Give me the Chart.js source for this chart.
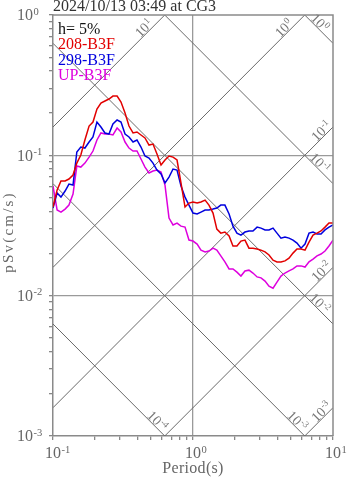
<!DOCTYPE html>
<html>
<head>
<meta charset="utf-8">
<title>pSv spectrum</title>
<style>
  html, body { margin: 0; padding: 0; background: #fff; }
  #wrap { width: 347px; height: 478px; }
</style>
<script src="https://cdn.jsdelivr.net/npm/chart.js@4/dist/chart.umd.min.js"></script>
</head>
<body>
<div id="wrap"><canvas id="chart" width="347" height="478"></canvas></div>
<script>
// Natural periods (s)
const periods = [
  0.1, 0.107, 0.114, 0.122, 0.13, 0.139, 0.148, 0.158, 0.169, 0.181,
  0.193, 0.206, 0.22, 0.235, 0.251, 0.268, 0.287, 0.306, 0.327, 0.349,
  0.373, 0.398, 0.425, 0.454, 0.485, 0.518, 0.553, 0.591, 0.631, 0.674,
  0.72, 0.769, 0.821, 0.877, 0.936, 1.0, 1.07, 1.14, 1.22, 1.3,
  1.39, 1.48, 1.58, 1.69, 1.81, 1.93, 2.06, 2.2, 2.35, 2.51,
  2.68, 2.87, 3.06, 3.27, 3.49, 3.73, 3.98, 4.25, 4.54, 4.85,
  5.18, 5.53, 5.91, 6.31, 6.74, 7.2, 7.69, 8.21, 8.77, 9.36, 10.0
];

// Pseudo velocity response, h = 5% (cm/s)
const sv208 = [
  0.0428, 0.0566, 0.0656, 0.0656, 0.0678, 0.0724, 0.0881, 0.1005, 0.1286, 0.1617,
  0.1727, 0.2138, 0.2359, 0.2438, 0.2519, 0.2646, 0.2646, 0.2398, 0.2003, 0.1617,
  0.1443, 0.1466, 0.1396, 0.1329, 0.1184, 0.1204, 0.1022, 0.0853, 0.0926, 0.0989,
  0.0972, 0.0926, 0.0635, 0.0428, 0.0457, 0.0465, 0.0457, 0.0465, 0.0480, 0.0442,
  0.0388, 0.0298, 0.0279, 0.0284, 0.0266, 0.0226, 0.0226, 0.0245, 0.0249, 0.0218,
  0.0218, 0.0215, 0.0211, 0.0205, 0.0195, 0.0179, 0.0174, 0.0174, 0.0177, 0.0185,
  0.0201, 0.0215, 0.0215, 0.0211, 0.0241, 0.0270, 0.0279, 0.0289, 0.0308, 0.0329, 0.0329
];
const sv298 = [
  0.0421, 0.0539, 0.0504, 0.0557, 0.0624, 0.0614, 0.1056, 0.1146, 0.1127, 0.1244,
  0.1351, 0.1727, 0.1591, 0.1443, 0.1419, 0.1671, 0.1785, 0.1727, 0.1419, 0.1351,
  0.1244, 0.1286, 0.1146, 0.0989, 0.0957, 0.0881, 0.0786, 0.0736, 0.0635, 0.0700,
  0.0799, 0.0786, 0.0604, 0.0504, 0.0442, 0.0388, 0.0382, 0.0394, 0.0408, 0.0408,
  0.0414, 0.0421, 0.0442, 0.0442, 0.0382, 0.0313, 0.0279, 0.0270, 0.0284, 0.0289,
  0.0289, 0.0308, 0.0303, 0.0294, 0.0294, 0.0303, 0.0279, 0.0257, 0.0262, 0.0257,
  0.0249, 0.0237, 0.0218, 0.0233, 0.0279, 0.0284, 0.0275, 0.0275, 0.0294, 0.0308, 0.0319
];
const svUP = [
  0.0604, 0.0408, 0.0394, 0.0414, 0.0442, 0.0530, 0.0839, 0.0825, 0.0881, 0.0972,
  0.1073, 0.1286, 0.1443, 0.1419, 0.1419, 0.1396, 0.1566, 0.1466, 0.1244, 0.1127,
  0.1073, 0.1073, 0.0941, 0.0825, 0.0748, 0.0773, 0.0786, 0.0760, 0.0614, 0.0357,
  0.0319, 0.0329, 0.0313, 0.0308, 0.0249, 0.0245, 0.0233, 0.0211, 0.0205, 0.0208,
  0.0218, 0.0211, 0.0192, 0.0174, 0.0155, 0.0155, 0.0147, 0.0138, 0.0150, 0.0152,
  0.0145, 0.0136, 0.0134, 0.0127, 0.0117, 0.0113, 0.0125, 0.0138, 0.0145, 0.0150,
  0.0155, 0.0163, 0.0163, 0.0160, 0.0174, 0.0182, 0.0192, 0.0198, 0.0208, 0.0226, 0.0249
];

const seriesNames = ['208-B3F', '298-B3F', 'UP-B3F'];
const seriesColors = ['rgb(226,0,0)', 'rgb(0,0,222)', 'rgb(222,0,222)'];
const dampingText = 'h= 5%';
const titleText = '2024/10/13 03:49 at CG3';
const xTitle = 'Period(s)';
const yTitle = 'pSv(cm/s)';

// Axis ranges and decade labels (powers of ten)
const periodRange = [0.1, 10];
const svRange = [0.001, 1];
const xTickExps = [-1, 0, 1];
const yTickExps = [0, -1, -2, -3];

// Tripartite guide lines: displacement (cm) and acceleration (cm/s^2), as powers of ten
const dispExps = [-4, -3, -2, -1, 0];
const accExps = [-3, -2, -1, 0, 1];

const FONT = '"Liberation Serif", "Times New Roman", serif';
const TWO_PI = 2 * Math.PI;

const guideLines = [
  ...dispExps.map(e => ({ kind: 'disp', exp: e,
    pts: periodRange.map(T => ({ x: T, y: TWO_PI * Math.pow(10, e) / T })) })),
  ...accExps.map(e => ({ kind: 'acc', exp: e,
    pts: periodRange.map(T => ({ x: T, y: Math.pow(10, e) * T / TWO_PI })) }))
];

const seriesValues = [sv208, sv298, svUP];
const datasets = [
  ...seriesValues.map((vals, i) => ({
    label: seriesNames[i],
    data: periods.map((T, j) => ({ x: T, y: vals[j] })),
    borderColor: seriesColors[i],
    borderWidth: 1.5,
    pointRadius: 0,
    tension: 0,
    fill: false,
    clip: 0,
    order: 0
  })),
  ...guideLines.map(g => ({
    label: '',
    data: g.pts,
    borderColor: '#6a6a6a',
    borderWidth: 1,
    pointRadius: 0,
    fill: false,
    clip: 0,
    order: 1
  }))
];

function decadeTicks(lo, hi) {
  const ticks = [];
  for (let e = lo; e < hi; e++) {
    for (let m = 1; m <= 9; m++) ticks.push({ value: m * Math.pow(10, e), major: m === 1 });
  }
  ticks.push({ value: Math.pow(10, hi), major: true });
  return ticks;
}

function isDecade(v) {
  const l = Math.log10(v);
  return Math.abs(l - Math.round(l)) < 1e-9;
}

function gridColorFor(range) {
  return c => {
    const v = c.tick && c.tick.value;
    if (!v) return 'transparent';
    if (Math.abs(v - range[0]) / range[0] < 1e-9 || Math.abs(v - range[1]) / range[1] < 1e-9) return 'transparent';
    return isDecade(v) ? '#9a9a9a' : 'transparent';
  };
}

// "10" with a raised exponent
function drawPower(ctx, exp, x, y, size, align) {
  const base = '10';
  const sup = String(exp);
  const supSize = size * 0.66;
  ctx.font = size + 'px ' + FONT;
  const wb = ctx.measureText(base).width;
  ctx.font = supSize + 'px ' + FONT;
  const ws = ctx.measureText(sup).width;
  let x0 = x;
  if (align === 'base') x0 = x - wb / 2;
  else if (align === 'center') x0 = x - (wb + ws + 0.5) / 2;
  ctx.textAlign = 'left';
  ctx.textBaseline = 'alphabetic';
  ctx.font = size + 'px ' + FONT;
  ctx.fillText(base, x0, y);
  ctx.font = supSize + 'px ' + FONT;
  ctx.fillText(sup, x0 + wb + 0.5, y - size * 0.36);
}

const decor = {
  id: 'decor',
  afterDraw(chart) {
    const { ctx, chartArea: a, scales: { x, y } } = chart;
    ctx.save();

    // frame: top and right edges
    ctx.strokeStyle = '#8a8a8a';
    ctx.lineWidth = 1.5;
    ctx.beginPath();
    ctx.moveTo(a.left, a.top);
    ctx.lineTo(a.right, a.top);
    ctx.lineTo(a.right, a.bottom);
    ctx.stroke();

    // decade labels
    ctx.fillStyle = '#666';
    yTickExps.forEach(e => drawPower(ctx, e, a.left - 36, y.getPixelForValue(Math.pow(10, e)) + 5.3, 16, 'left'));
    xTickExps.forEach(e => drawPower(ctx, e, x.getPixelForValue(Math.pow(10, e)), a.bottom + 22.3, 16, 'base'));

    // axis titles
    ctx.font = '16px ' + FONT;
    ctx.textAlign = 'center';
    ctx.textBaseline = 'alphabetic';
    ctx.letterSpacing = '0.3px';
    ctx.fillText(xTitle, (a.left + a.right) / 2, a.bottom + 36.5);
    ctx.save();
    ctx.font = '15px ' + FONT;
    ctx.letterSpacing = '2.2px';
    ctx.translate(13, 232);
    ctx.rotate(-Math.PI / 2);
    ctx.fillText(yTitle, 0, 0);
    ctx.restore();
    ctx.letterSpacing = '0px';

    // chart title
    ctx.fillStyle = '#333';
    ctx.font = '16px ' + FONT;
    ctx.textAlign = 'left';
    ctx.fillText(titleText, a.left, 11);

    // legend block
    ctx.fillStyle = '#111';
    ctx.fillText(dampingText, a.left + 5, a.top + 18.5);
    seriesNames.forEach((n, i) => {
      ctx.fillStyle = seriesColors[i];
      ctx.fillText(n, a.left + 5, a.top + 34 + i * 15.5);
    });

    // guide line labels, placed where each line leaves the plot
    ctx.fillStyle = '#777';
    const r2 = Math.SQRT1_2;
    guideLines.forEach(g => {
      const val = Math.pow(10, g.exp);
      let ex, ey, back, dx, dy, px, py, rot;
      if (g.kind === 'acc') {
        const svRight = val * periodRange[1] / TWO_PI;
        if (svRight <= svRange[1]) {
          ex = a.right; ey = y.getPixelForValue(svRight); back = 11;
        } else {
          ex = x.getPixelForValue(TWO_PI * svRange[1] / val); ey = a.top; back = 24;
        }
        dx = -r2; dy = r2; px = -r2; py = -r2; rot = -Math.PI / 4;
      } else {
        const svRight = TWO_PI * val / periodRange[1];
        if (svRight >= svRange[0]) {
          ex = a.right; ey = y.getPixelForValue(svRight); back = 24;
        } else {
          ex = x.getPixelForValue(TWO_PI * val / svRange[0]); ey = a.bottom; back = 16;
        }
        dx = -r2; dy = -r2; px = r2; py = -r2; rot = Math.PI / 4;
      }
      const cx = ex + dx * back + px * 5.5;
      const cy = ey + dy * back + py * 5.5;
      ctx.save();
      ctx.translate(cx, cy);
      ctx.rotate(rot);
      drawPower(ctx, g.exp, 0, 4.6, 14, 'center');
      ctx.restore();
    });

    ctx.restore();
  }
};

new Chart(document.getElementById('chart').getContext('2d'), {
  type: 'line',
  data: { datasets },
  options: {
    responsive: false,
    animation: false,
    devicePixelRatio: 1,
    events: [],
    layout: { padding: { left: 0, right: 14, top: 15, bottom: 0 } },
    plugins: {
      legend: { display: false },
      tooltip: { enabled: false },
      title: { display: false }
    },
    scales: {
      x: {
        type: 'logarithmic',
        min: periodRange[0],
        max: periodRange[1],
        afterBuildTicks: s => { s.ticks = decadeTicks(-1, 1); },
        afterFit: s => { s.height = 42; },
        ticks: { display: false },
        grid: { color: gridColorFor(periodRange), lineWidth: 1.3, tickColor: '#888', tickLength: 4 },
        border: { color: '#8a8a8a', width: 1.5 }
      },
      y: {
        type: 'logarithmic',
        min: svRange[0],
        max: svRange[1],
        afterBuildTicks: s => { s.ticks = decadeTicks(-3, 0); },
        afterFit: s => { s.width = 53; },
        ticks: { display: false },
        grid: { color: gridColorFor(svRange), lineWidth: 1.3, tickColor: '#888', tickLength: 4 },
        border: { color: '#8a8a8a', width: 1.5 }
      }
    }
  },
  plugins: [decor]
});
</script>
</body>
</html>
